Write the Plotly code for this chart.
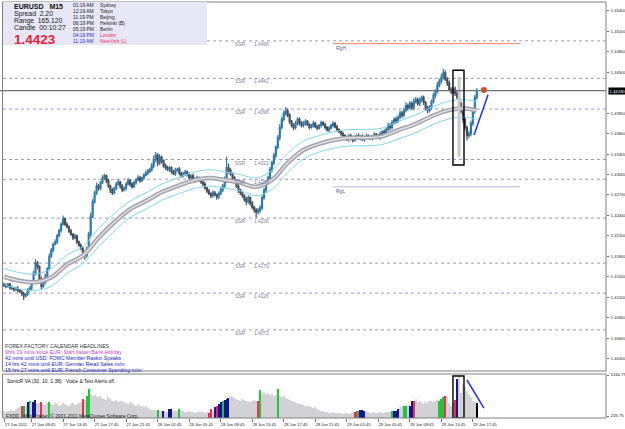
import plotly.graph_objects as go

W, H = 625, 429
def px(x): return x / W
def py(y): return 1 - y / H

# ---------------- data ----------------
close = [
    1.4137, 1.4136, 1.4139, 1.4134, 1.4133, 1.4131, 1.4133, 1.4130, 1.4128, 1.4125, 1.4122, 1.4124, 1.4130,
    1.4133, 1.4142, 1.4155, 1.4170, 1.4165, 1.4147, 1.4136, 1.4142, 1.4151, 1.4162, 1.4180,
    1.4189, 1.4198, 1.4201, 1.4210, 1.4218, 1.4227, 1.4235,
    1.4227, 1.4223, 1.4217, 1.4212, 1.4207, 1.4210, 1.4201, 1.4196, 1.4192, 1.4186, 1.4181,
    1.4192, 1.4212, 1.4239, 1.4260, 1.4273, 1.4283, 1.4280,
    1.4288, 1.4295, 1.4298, 1.4291, 1.4283, 1.4277, 1.4273, 1.4280, 1.4286, 1.4289, 1.4283, 1.4277, 1.4280,
    1.4286, 1.4291, 1.4286, 1.4282, 1.4288, 1.4292, 1.4295, 1.4291, 1.4295, 1.4299, 1.4302, 1.4305, 1.4307,
    1.4313, 1.4322, 1.4328, 1.4317, 1.4325, 1.4320, 1.4313, 1.4310,
    1.4307, 1.4310, 1.4304, 1.4301, 1.4306, 1.4308, 1.4302, 1.4298, 1.4301, 1.4304, 1.4300, 1.4295, 1.4298,
    1.4294, 1.4291, 1.4295, 1.4292, 1.4289,
    1.4286, 1.4280, 1.4276, 1.4272, 1.4269, 1.4273, 1.4270, 1.4267, 1.4272, 1.4277, 1.4283, 1.4292, 1.4310, 1.4306,
    1.4301, 1.4295, 1.4291, 1.4283, 1.4277, 1.4273, 1.4269, 1.4264, 1.4260, 1.4266, 1.4258, 1.4252, 1.4248, 1.4245, 1.4247,
    1.4251, 1.4266, 1.4277, 1.4288, 1.4295, 1.4307, 1.4317, 1.4328, 1.4340, 1.4354, 1.4369, 1.4381, 1.4390, 1.4393,
    1.4387, 1.4378, 1.4372, 1.4369, 1.4375, 1.4381, 1.4376, 1.4372, 1.4375,
    1.4378, 1.4373, 1.4369, 1.4372, 1.4375, 1.4370, 1.4368, 1.4372, 1.4376, 1.4373, 1.4369, 1.4365, 1.4368,
    1.4372, 1.4375, 1.4370, 1.4366, 1.4363, 1.4360, 1.4357,
    1.4354, 1.4351, 1.4357, 1.4353, 1.4350, 1.4354, 1.4357, 1.4353, 1.4356, 1.4351, 1.4354, 1.4357, 1.4354,
    1.4353, 1.4356, 1.4359, 1.4356, 1.4354, 1.4360, 1.4363, 1.4361,
    1.4366, 1.4372, 1.4369, 1.4376, 1.4381, 1.4378, 1.4384, 1.4390, 1.4387, 1.4394, 1.4401, 1.4398, 1.4404,
    1.4398, 1.4407, 1.4410, 1.4404, 1.4409, 1.4413,
    1.4406, 1.4398, 1.4394, 1.4398, 1.4407, 1.4416, 1.4422, 1.4431, 1.4437, 1.4443, 1.4449,
    1.4440, 1.4434, 1.4425, 1.4421, 1.4425, 1.4419, 1.4413, 1.4404, 1.4393, 1.4381, 1.4369, 1.4357, 1.4360,
    1.4375, 1.4393, 1.4413, 1.4423,
]
# wick lengths beyond the body, in pips
wick_up = [
    2, 3, 2, 2, 3, 2, 2, 3, 2, 2, 3, 2, 3,
    3, 2, 4, 6, 3, 2, 3, 2, 3, 2, 4,
    3, 2, 4, 3, 2, 3, 5,
    2, 3, 2, 3, 2, 3, 2, 2, 3, 2, 2,
    2, 4, 5, 4, 3, 5, 3,
    3, 4, 3, 2, 3, 2, 3, 2, 3, 4, 2, 3, 2, 3, 4, 2, 3, 3, 2, 4, 3, 2, 3, 4, 3, 3,
    4, 6, 5, 3, 5, 3, 2, 3,
    3, 3, 2, 3, 4, 2, 3, 2, 3, 3, 2, 3, 2, 3, 2, 3, 2, 3,
    2, 3, 2, 3, 2, 4, 3, 2, 3, 4, 3, 5, 16, 6,
    3, 2, 3, 2, 3, 2, 3, 2, 3, 4, 2, 3, 2, 3, 4,
    4, 3, 3, 4, 3, 4, 3, 4, 3, 4, 5, 4, 4, 6,
    4, 3, 2, 3, 4, 3, 3, 2, 3,
    3, 2, 3, 2, 4, 2, 3, 2, 3, 2, 3, 2, 3, 2, 3, 2, 3, 2, 2, 3,
    2, 3, 2, 3, 2, 3, 2, 3, 2, 3, 2, 3, 2, 3, 2, 3, 2, 3, 3, 2, 3,
    3, 4, 3, 4, 3, 4, 3, 4, 3, 4, 5, 3, 4, 3, 5, 4, 3, 4, 3,
    3, 2, 3, 4, 3, 4, 3, 5, 4, 5, 6,
    4, 3, 4, 3, 3, 4, 5, 3, 3, 3, 3, 3, 4, 4, 4, 4, 4,
]
wick_dn = [
    2, 3, 2, 3, 2, 3, 2, 3, 2, 3, 6, 3, 2,
    2, 3, 2, 3, 4, 3, 5, 2, 3, 2, 3,
    2, 3, 2, 3, 2, 3, 2,
    3, 2, 3, 2, 3, 2, 3, 2, 3, 3, 6,
    3, 4, 3, 3, 3, 3, 4,
    3, 2, 3, 4, 3, 4, 3, 2, 3, 2, 4, 3, 2, 3, 2, 4, 3, 2, 3, 2, 3, 2, 3, 2, 3, 3,
    3, 4, 3, 5, 3, 4, 3, 3,
    2, 3, 3, 2, 3, 2, 3, 3, 2, 3, 3, 2, 3, 2, 3, 2, 3, 3,
    3, 2, 3, 2, 4, 3, 2, 4, 3, 2, 3, 3, 4, 5,
    3, 3, 2, 3, 4, 3, 3, 4, 5, 3, 4, 3, 4, 8, 4,
    4, 3, 3, 4, 3, 3, 4, 3, 4, 3, 4, 3, 3, 4,
    3, 4, 3, 4, 3, 3, 4, 3, 3,
    3, 2, 3, 2, 3, 2, 3, 2, 3, 2, 3, 2, 3, 2, 3, 2, 3, 2, 3, 3,
    3, 2, 3, 2, 3, 2, 3, 2, 3, 2, 3, 2, 3, 2, 3, 2, 3, 2, 3, 2, 3,
    3, 3, 4, 3, 3, 4, 3, 3, 4, 3, 3, 4, 3, 3, 4, 3, 3, 4, 3,
    4, 5, 4, 3, 3, 3, 4, 3, 3, 4, 4,
    3, 4, 3, 3, 3, 4, 3, 4, 4, 5, 5, 7, 4, 4, 4, 4, 3,
]
first_open = 1.4139

# moving average band (read every 8 bars)
ma_idx = [0, 8, 16, 24, 32, 40, 48, 56, 64, 72, 80, 88, 96, 104, 112, 120, 128, 136, 144, 152,
          160, 168, 176, 184, 192, 200, 208, 216, 224, 232, 240]
ma_mid = [1.4150, 1.4144, 1.4142, 1.4149, 1.4168, 1.4181, 1.4207, 1.4230, 1.4249, 1.4261, 1.4274,
          1.4283, 1.4291, 1.4295, 1.4292, 1.4288, 1.4282, 1.4292, 1.4317, 1.4336, 1.4345, 1.4351,
          1.4354, 1.4354, 1.4356, 1.4365, 1.4373, 1.4384, 1.4393, 1.4397, 1.4394]
ma_up = [1.4162, 1.4156, 1.4154, 1.4162, 1.4182, 1.4194, 1.4221, 1.4243, 1.4261, 1.4273, 1.4286,
         1.4295, 1.4303, 1.4307, 1.4304, 1.4300, 1.4295, 1.4306, 1.4331, 1.4349, 1.4357, 1.4363,
         1.4366, 1.4366, 1.4368, 1.4378, 1.4386, 1.4397, 1.4406, 1.4410, 1.4407]
ma_dn = [1.4138, 1.4132, 1.4130, 1.4136, 1.4155, 1.4169, 1.4194, 1.4217, 1.4237, 1.4249, 1.4262,
         1.4271, 1.4279, 1.4283, 1.4280, 1.4276, 1.4269, 1.4278, 1.4303, 1.4323, 1.4333, 1.4339,
         1.4342, 1.4342, 1.4344, 1.4352, 1.4360, 1.4371, 1.4380, 1.4384, 1.4381]

volume = [
    800, 750, 900, 850, 1000, 900, 1100, 1200, 1300, 1400, 1500, 1400, 1900, 2000, 1800, 1900, 2200, 1700,
    1800, 1950, 1700, 1600, 1800, 1950,
    1700, 1600, 1800, 1700, 1500, 1600, 1800, 1700, 1600, 1500, 1700, 1800, 1600, 1700, 1800,
    1900, 2300, 2200, 2620, 3530,
    2900, 2700, 2800, 2600, 2500, 2700, 2400, 2300, 2200, 2500, 2300, 2100, 2000, 2200, 1900, 2000,
    2100, 1900, 1800, 1700, 1900, 1800, 1600, 1500, 1700, 1500, 1400, 1300, 1400, 1200,
    1100, 1000, 950, 900, 1000, 850, 800, 900, 800, 750, 1100, 1100, 900, 800, 850, 1100, 900, 800,
    750, 700, 800, 750, 700, 650, 700, 750, 700,
    700, 650, 700, 600, 1100, 900, 1300, 1500, 1700, 1900, 2000, 2200, 2300, 2400,
    2500, 2600, 2400, 2300, 2200, 2100, 2300, 2200, 2000, 2100, 1900, 2000, 2200,
    2100, 2090, 3340,
    3000, 3100, 2900, 3000, 2800, 2900, 2700, 2800, 3440,
    2600, 2500, 2700, 2400, 2300, 2200, 2000, 2100, 1900, 1800, 1700,
    1700, 1600, 1500, 1400, 1500, 1300, 1200, 1300, 1100, 1000,
    900, 800, 700, 750, 650, 600, 700, 650, 600, 550, 600, 500, 550, 600, 500, 550, 600,
    700, 800, 900, 950, 1000, 900,
    800, 700, 650, 600, 700, 650, 600, 700, 650, 600, 700, 750, 700,
    800, 800, 900, 1100, 1300, 1400, 1400, 1500, 1600, 1500, 2000, 2100, 2300,
    1900, 2000, 1800, 1700, 1900, 1800, 2000, 2100, 1900, 2000, 2200, 2100,
    2300, 2500, 2700, 2600, 1800, 1400, 1900, 2200, 4700, 4900,
    3000, 4050, 3700, 3300, 2900, 2500, 2100, 1900, 1800,
]
vol_kind = (
    "gggggggggRGgBGgBBggRgggG"
    "ggggggggggggggg"
    "gRgGG"
    "gggggggggggggggggggggggggggggg"
    "ggggGggBggBBgggGggggggggggg"
    "gggRRgBRBBGBBB"
    "ggggggggggggg"
    "gRG"
    "ggggggggG"
    "ggggggggggg"
    "gggggggggg"
    "ggggggggggggggggg"
    "RRGBBB"
    "ggggggggggggg"
    "GBBBggGGgBBR"
    "gggggggggggg"
    "GGGRgggg"
    "RB"
    "ggggggggg"
)

price_ticks = [1.4540, 1.4510, 1.4480, 1.4450, 1.4390, 1.4360, 1.4330, 1.4300, 1.4270, 1.4240,
               1.4210, 1.4180, 1.4150, 1.4120, 1.4090, 1.4060, 1.4030]
vol_ticks = [245.75, 5160.75]
time_ticks = [0, 14, 30, 46, 62, 78, 94, 110, 126, 142, 158, 174, 190, 206, 222, 238]
time_labels = ["27 Jun 2011", "27 Jun 09:45", "27 Jun 13:45", "27 Jun 17:45", "27 Jun 21:45",
               "28 Jun 01:45", "28 Jun 05:45", "28 Jun 09:45", "28 Jun 13:45", "28 Jun 17:45",
               "28 Jun 21:45", "29 Jun 01:45", "29 Jun 05:45", "29 Jun 09:45", "29 Jun 13:45",
               "29 Jun 17:45"]

ssr_levels = [1.4496, 1.4441, 1.4396, 1.4322, 1.4293, 1.4236, 1.4170, 1.4126, 1.4072]
ssr_text = ["1.4496", "1.4441", "1.4396", "1.4322", "1.4293", "1.4236", "1.4170", "1.4126", "1.4072"]
rgh_level, rgl_level = 1.4492, 1.4282
range_span = [167, 262]
last_price = 1.4423
box_bar = [227.9, 233.5]
box_price = [1.4314, 1.4453]
box_vol = [6, 5040]
spike_bar = [231, 231]
spike_price = [1.4326, 1.4443]
trend_x = [238.6, 245.7]
trend_y = [1.4358, 1.4417]
vtrend_x = [235.0, 243.6]
vtrend_y = [4560, 1200]
dot_x, dot_y = [243.6], [1.4424]

# ---------------- derived candle fields ----------------
n = len(close)
idx = list(range(n))
open_ = [first_open] + close[:-1]
high = [max(o, c) + u * 0.0001 for o, c, u in zip(open_, close, wick_up)]
low = [min(o, c) - d * 0.0001 for o, c, d in zip(open_, close, wick_dn)]
cmap = {"g": "#d2d2d6", "G": "#22c43c", "R": "#ea3050", "B": "#141496"}
vcolors = [cmap[k] for k in vol_kind]

FONT = "Liberation Sans"
fig = go.Figure()

# MA band
fig.add_trace(go.Scatter(x=ma_idx, y=ma_up, mode="lines", line=dict(color="#7fd6f2", width=1),
                         line_shape="spline", hoverinfo="skip", showlegend=False))
fig.add_trace(go.Scatter(x=ma_idx, y=ma_dn, mode="lines", line=dict(color="#7fd6f2", width=1),
                         line_shape="spline", hoverinfo="skip", showlegend=False))
fig.add_trace(go.Scatter(x=ma_idx, y=ma_mid, mode="lines", line=dict(color="#a4a4ac", width=4.5),
                         line_shape="spline", hoverinfo="skip", showlegend=False))
fig.add_trace(go.Scatter(x=ma_idx, y=ma_mid, mode="lines", line=dict(color="#e2e2e8", width=1.4),
                         line_shape="spline", hoverinfo="skip", showlegend=False))

# tall highlighted bar inside the box
fig.add_trace(go.Scatter(x=spike_bar, y=spike_price, mode="lines", line=dict(color="#c6c6ce", width=3),
                         hoverinfo="skip", showlegend=False))

fig.add_trace(go.Candlestick(
    x=idx, open=open_, high=high, low=low, close=close,
    increasing=dict(line=dict(color="#2d78a6", width=1.2), fillcolor="#3b8cc0"),
    decreasing=dict(line=dict(color="#484c58", width=1.2), fillcolor="#484c58"),
    whiskerwidth=0, showlegend=False, hoverinfo="skip", xaxis="x", yaxis="y"))

fig.add_trace(go.Scatter(x=trend_x, y=trend_y, mode="lines", line=dict(color="#2233dd", width=1.5),
                         hoverinfo="skip", showlegend=False))
fig.add_trace(go.Scatter(x=dot_x, y=dot_y, mode="markers", marker=dict(color="#e8461e", size=6),
                         hoverinfo="skip", showlegend=False))

# volume
fig.add_trace(go.Bar(x=idx, y=volume, marker=dict(color=vcolors, line=dict(width=0)), width=0.62,
                     xaxis="x2", yaxis="y2", hoverinfo="skip", showlegend=False))
fig.add_trace(go.Scatter(x=vtrend_x, y=vtrend_y, mode="lines", line=dict(color="#2233dd", width=1.5),
                         xaxis="x2", yaxis="y2", hoverinfo="skip", showlegend=False))

shapes = []
XR = px(606)
for lv in ssr_levels:
    shapes.append(dict(type="line", xref="paper", yref="y", x0=px(3), x1=XR, y0=lv, y1=lv,
                       line=dict(color="#9a9ab8", width=1, dash="dot"), layer="below"))
shapes.append(dict(type="line", xref="x", yref="y", x0=range_span[0], x1=range_span[1],
                   y0=rgh_level, y1=rgh_level, line=dict(color="#e8805e", width=1)))
shapes.append(dict(type="line", xref="x", yref="y", x0=range_span[0], x1=range_span[1],
                   y0=rgl_level, y1=rgl_level, line=dict(color="#b4b4cc", width=1)))
shapes.append(dict(type="line", xref="paper", yref="y", x0=0, x1=XR, y0=last_price, y1=last_price,
                   line=dict(color="#707070", width=1.3)))
shapes.append(dict(type="rect", xref="x", yref="y", x0=box_bar[0], x1=box_bar[1],
                   y0=box_price[0], y1=box_price[1], line=dict(color="#000000", width=1.4)))
shapes.append(dict(type="rect", xref="x2", yref="y2", x0=box_bar[0], x1=box_bar[1],
                   y0=box_vol[0], y1=box_vol[1], line=dict(color="#000000", width=1.4)))
# window frames
shapes.append(dict(type="rect", xref="paper", yref="paper", x0=px(2.5), x1=XR, y0=py(371), y1=py(2),
                   line=dict(color="#808080", width=1)))
shapes.append(dict(type="rect", xref="paper", yref="paper", x0=px(2.5), x1=XR, y0=py(418), y1=py(374),
                   line=dict(color="#808080", width=1)))
# info panel
shapes.append(dict(type="rect", xref="paper", yref="paper", x0=px(3), x1=px(207), y0=py(45), y1=py(2),
                   fillcolor="#e6e6f4", line=dict(width=0), layer="above"))

ann = []
def text(x, y, s, size=5, color="#000000", bold=False, xanchor="left"):
    ann.append(dict(xref="paper", yref="paper", x=px(x), y=py(y), text=("<b>%s</b>" % s) if bold else s,
                    showarrow=False, xanchor=xanchor, yanchor="middle",
                    font=dict(family=FONT, size=size, color=color)))

for lv, tx in zip(ssr_levels, ssr_text):
    for xb, s in ((116.2, "SSR"), (125.9, tx)):
        ann.append(dict(xref="x", yref="y", x=xb, y=lv, text=s, showarrow=False, xanchor="left",
                        yanchor="middle", yshift=-3.5, font=dict(family=FONT, size=4.8, color="#7a7aa0")))
for lv, s in ((rgh_level, "RgH"), (rgl_level, "RgL")):
    ann.append(dict(xref="x", yref="y", x=range_span[0] + 0.5, y=lv, text=s, showarrow=False,
                    xanchor="left", yanchor="middle", yshift=-4, font=dict(family=FONT, size=5, color="#5a5a9a")))

# current price tag
ann.append(dict(xref="paper", yref="y", x=px(607.5), y=last_price, text="1.44230", showarrow=False,
                xanchor="left", yanchor="middle", bgcolor="#000000", borderpad=0.5,
                font=dict(family=FONT, size=4.2, color="#ffffff")))

# info panel text
text(12, 6.5, "EURUSD&nbsp;&nbsp;&nbsp;M15", 7, "#101010", bold=True)
text(12, 14.2, "Spread&nbsp;&nbsp;2.20", 6.8, "#202020")
text(12, 21.0, "Range&nbsp;&nbsp;165.120", 6.8, "#202020")
text(12, 27.8, "Candle&nbsp;&nbsp;00:10:27", 6.8, "#202020")
text(12, 39.3, "1.4423", 13.5, "#e2203c", bold=True)
clock_t = ["01:19 AM", "12:19 AM", "11:19 PM", "06:19 PM", "05:19 PM", "04:19 PM", "11:19 AM"]
clock_c = ["Sydney", "Tokyo", "Beijing", "Helsinki (B)", "Berlin", "London", "NewYork (L)"]
clock_y = [5.8, 11.8, 17.7, 23.6, 29.4, 35.2, 41.2]
for i, (t, c, yy) in enumerate(zip(clock_t, clock_c, clock_y)):
    tc = "#2a2ae6" if i >= 5 else "#202020"
    cc = "#e83054" if i >= 5 else "#202020"
    text(71, yy, t, 4.9, tc)
    text(97.5, yy, c, 4.9, cc)

# forex factory headlines
text(3, 345.5, "FOREX FACTORY CALENDAR HEADLINES:", 5.2, "#303030")
text(3, 352, "9hrs 19 mins since EUR: Start Italian Bank Holiday", 5.2, "#c040d0")
text(3, 358, "42 mins until USD: FOMC Member Raskin Speaks", 5.2, "#2020c8")
text(3, 364, "14 hrs 42 mins until EUR: German Retail Sales m/m", 5.2, "#2020c8")
text(3, 369.5, "15 hrs 27 mins until EUR: French Consumer Spending m/m", 5.2, "#2020c8")

text(4.5, 381, "SonicR VA (30, 10, 1.38)&nbsp;&nbsp;&nbsp;Voice &amp; Text Alerts off.", 5, "#101010")
text(3.5, 415.5, "FXDD - MetaTrader, © 2001-2011 MetaQuotes Software Corp.", 4.8, "#202020")

xr = [-0.508, 305.58]
fig.update_layout(
    width=W, height=H, margin=dict(l=0, r=0, t=0, b=0, autoexpand=False),
    paper_bgcolor="#ffffff", plot_bgcolor="#ffffff", showlegend=False,
    shapes=shapes, annotations=ann, bargap=0,
    xaxis=dict(domain=[px(3), XR], range=xr, anchor="y", showticklabels=False, showgrid=False,
               zeroline=False, rangeslider=dict(visible=False), fixedrange=True, automargin=False),
    xaxis2=dict(domain=[px(3), XR], range=xr, anchor="y2", showgrid=False, zeroline=False,
                tickmode="array", tickvals=time_ticks, ticktext=time_labels, ticks="outside",
                ticklen=2.5, tickcolor="#707070", ticklabelshift=12, ticklabelstandoff=0,
                tickangle=0, automargin=False,
                tickfont=dict(family=FONT, size=4.1, color="#202020")),
    yaxis=dict(domain=[py(371), py(3)], range=[1.40117, 1.45516], side="right", anchor="x",
               showgrid=False, zeroline=False, tickmode="array", tickvals=price_ticks,
               ticktext=["%.5f" % v for v in price_ticks], ticks="outside", ticklen=2,
               ticklabelstandoff=1,
               tickcolor="#707070", tickfont=dict(family=FONT, size=4.2, color="#202020"),
               showline=False, automargin=False),
    yaxis2=dict(domain=[py(418), py(374)], range=[6, 5281], side="right", anchor="x2",
                showgrid=False, zeroline=False, tickmode="array", tickvals=vol_ticks,
                ticktext=["245.75", "5160.75"], ticks="outside", ticklen=2, tickcolor="#707070",
                ticklabelstandoff=1,
                automargin=False, tickfont=dict(family=FONT, size=4.2, color="#202020")),
)
fig.write_html("out.html")
